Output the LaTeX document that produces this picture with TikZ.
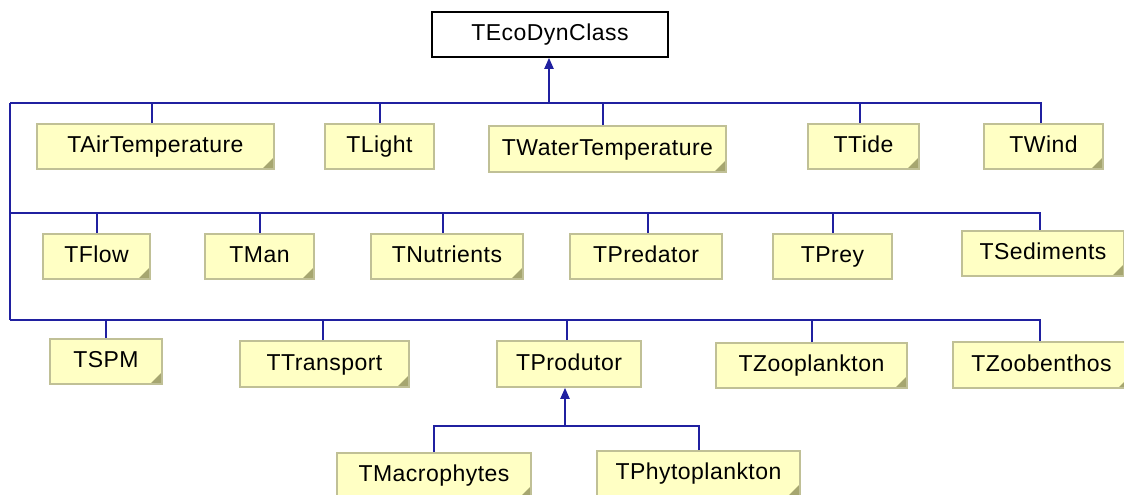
\documentclass[tikz,border=0pt]{standalone}
\usepackage{fontspec}
\setmainfont{Liberation Sans}[LetterSpace=2]
\usetikzlibrary{arrows.meta}

\definecolor{notefill}{RGB}{255,255,196}
\definecolor{noteedge}{RGB}{192,192,150}
\definecolor{notefold}{RGB}{166,166,112}
\definecolor{linkblue}{RGB}{32,32,160}

\tikzset{
  classbox/.style={draw, inner sep=0pt, text height=17pt, text depth=5pt,
    font=\fontsize{23}{27}\selectfont},
  rootbox/.style={classbox, fill=white, draw=black, line width=1.6pt},
  plainbox/.style={classbox, fill=notefill, draw=noteedge, line width=1.6pt},
  foldbox/.style={plainbox, path picture={
      \fill[notefold] (path picture bounding box.south east)
        -- ++(-12pt,0pt) -- ++(12pt,12pt) -- cycle;}},
  link/.style={draw=linkblue, line width=2pt},
  inherit/.style={link, -{Triangle[length=11pt, width=9pt]}},
}

\begin{document}
\begin{tikzpicture}[x=1pt, y=-1pt]
\clip (0,0) rectangle (1124,495);
\fill[white] (0,0) rectangle (1124,495);

% root class
\node[rootbox, minimum width=236pt, minimum height=45pt] (root) at (550,34.5) {TEcoDynClass};

% first row
\node[foldbox,  minimum width=237pt, minimum height=45pt] (air)   at (155.5,146.5) {TAirTemperature};
\node[plainbox, minimum width=109pt, minimum height=45pt] (light) at (379.5,146.5) {TLight};
\node[foldbox,  minimum width=237pt, minimum height=46pt] (water) at (607.5,149)   {TWaterTemperature};
\node[foldbox,  minimum width=111pt, minimum height=45pt] (tide)  at (863.5,146.5) {TTide};
\node[foldbox,  minimum width=119pt, minimum height=45pt] (wind)  at (1043.5,146.5) {TWind};

% second row
\node[foldbox,  minimum width=107pt, minimum height=45pt] (flow) at (96.5,256.5) {TFlow};
\node[foldbox,  minimum width=109pt, minimum height=45pt] (man)  at (259.5,256.5) {TMan};
\node[foldbox,  minimum width=152pt, minimum height=45pt] (nutr) at (447,256.5) {TNutrients};
\node[plainbox, minimum width=152pt, minimum height=45pt] (pred) at (646,256.5) {TPredator};
\node[plainbox, minimum width=119pt, minimum height=45pt] (prey) at (832.5,256.5) {TPrey};
\node[foldbox,  minimum width=162pt, minimum height=45pt] (sed)  at (1043,253.5) {TSediments};

% third row
\node[foldbox,  minimum width=112pt, minimum height=45pt] (spm)   at (106,361.5) {TSPM};
\node[foldbox,  minimum width=169pt, minimum height=46pt] (trans) at (324.5,364) {TTransport};
\node[plainbox, minimum width=144pt, minimum height=46pt] (prod)  at (569,364) {TProdutor};
\node[foldbox,  minimum width=191pt, minimum height=45pt] (zoop)  at (811.5,365.5) {TZooplankton};
\node[foldbox,  minimum width=177pt, minimum height=46pt] (zoob)  at (1041.5,365) {TZoobenthos};

% producers
\node[foldbox, minimum width=194pt, minimum height=45pt] (macro) at (434,475.5) {TMacrophytes};
\node[foldbox, minimum width=203pt, minimum height=45pt] (phyto) at (698.5,473.5) {TPhytoplankton};

% junction points of the buses
\coordinate (hub) at (549,103);
\coordinate (j1) at (10,103);
\coordinate (j2) at (10,213);
\coordinate (j3) at (10,320);
\coordinate (sub) at (565,426);

% inheritance from TEcoDynClass
\draw[inherit] (hub) -- (hub |- root.south);
\draw[link] (j1) -- (j3);
\draw[link] (j1) -- (hub);
\draw[link] ([xshift=-3.5pt]air.north) |- (hub);
\draw[link] (light.north) |- (hub);
\draw[link] ([xshift=-4.5pt]water.north) |- (hub);
\draw[link] ([xshift=-3.5pt]tide.north) |- (hub);
\draw[link] ([xshift=-2.5pt]wind.north) |- (hub);

\draw[link] (flow.north) |- (j2);
\draw[link] (man.north) |- (j2);
\draw[link] ([xshift=-4pt]nutr.north) |- (j2);
\draw[link] ([xshift=2pt]pred.north) |- (j2);
\draw[link] (prey.north) |- (j2);
\draw[link] ([xshift=-3pt]sed.north) |- (j2);

\draw[link] (spm.north) |- (j3);
\draw[link] ([xshift=-1.5pt]trans.north) |- (j3);
\draw[link] ([xshift=-2pt]prod.north) |- (j3);
\draw[link] (zoop.north) |- (j3);
\draw[link] ([xshift=-1.5pt]zoob.north) |- (j3);

% inheritance from TProdutor
\draw[inherit] (sub) -- (sub |- prod.south);
\draw[link] (macro.north) |- (sub);
\draw[link] (phyto.north) |- (sub);
\end{tikzpicture}
\end{document}
